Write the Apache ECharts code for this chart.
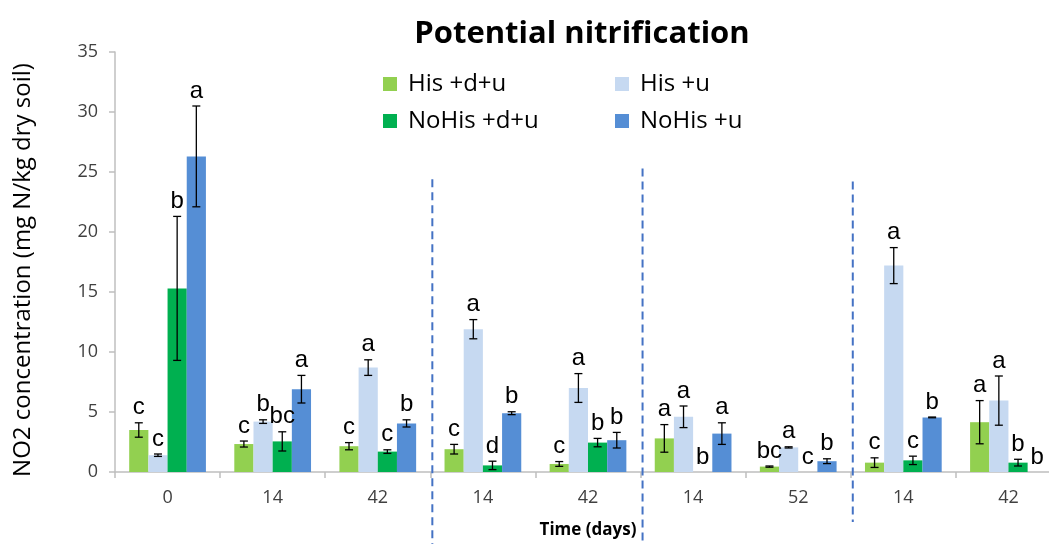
<!DOCTYPE html>
<html>
<head>
<meta charset="utf-8">
<script src="https://cdn.jsdelivr.net/npm/echarts@6/dist/echarts.min.js"></script>
<style>
  html, body { margin: 0; padding: 0; background: #fff; }
  #chart { width: 1049px; height: 544px; }
</style>
</head>
<body>
<div id="chart"></div>
<script>
// Sampling days (x categories)
const days = ['0', '14', '42', '14', '42', '14', '52', '14', '42'];

// Potential nitrification, mg N/kg dry soil (mean, error, significance letter)
const hisDU      = [3.5, 2.33, 2.15, 1.9, 0.67, 2.8, 0.45, 0.78, 4.15];
const hisDUErr   = [0.6, 0.25, 0.3, 0.4, 0.2, 1.15, 0.05, 0.4, 1.8];
const hisDUSig   = ['c', 'c', 'c', 'c', 'c', 'a', 'bc', 'c', 'a'];

const hisU       = [1.4, 4.2, 8.7, 11.9, 7.0, 4.6, 2.05, 17.2, 5.95];
const hisUErr    = [0.1, 0.15, 0.65, 0.8, 1.2, 0.9, 0.05, 1.5, 2.05];
const hisUSig    = ['c', 'b', 'a', 'a', 'a', 'a', 'a', 'a', 'a'];

const noHisDU    = [15.3, 2.55, 1.7, 0.55, 2.45, 0, 0, 0.97, 0.78];
const noHisDUErr = [6.0, 0.8, 0.15, 0.35, 0.35, 0, 0, 0.35, 0.28];
const noHisDUSig = ['b', 'bc', 'c', 'd', 'b', 'b', 'c', 'c', 'b'];

const noHisU     = [26.3, 6.9, 4.05, 4.9, 2.65, 3.2, 0.9, 4.55, 0];
const noHisUErr  = [4.2, 1.15, 0.3, 0.12, 0.65, 0.9, 0.2, 0.03, 0];
const noHisUSig  = ['a', 'a', 'b', 'b', 'b', 'a', 'b', 'b', 'b'];

const yTicks = [0, 5, 10, 15, 20, 25, 30, 35];

const seriesDefs = [
  { name: 'His +d+u',   color: '#92D050', v: hisDU,   e: hisDUErr,   s: hisDUSig },
  { name: 'His +u',     color: '#C6D9F1', v: hisU,    e: hisUErr,    s: hisUSig },
  { name: 'NoHis +d+u', color: '#00B050', v: noHisDU, e: noHisDUErr, s: noHisDUSig },
  { name: 'NoHis +u',   color: '#558ED5', v: noHisU,  e: noHisUErr,  s: noHisUSig }
];

const BAR_GAP = '0%';
const CAT_GAP = '27%';
const FONT = '"Open Sans", sans-serif';
const chart = echarts.init(document.getElementById('chart'), null, { renderer: 'canvas' });

// Error bar (I-beam) plus letter above it, placed over the matching bar
function errorRenderer(idx) {
  return function (params, api) {
    const cat = api.value(0);
    const val = api.value(1);
    const err = api.value(2);
    const layout = api.barLayout({ barGap: BAR_GAP, barCategoryGap: CAT_GAP, count: 4 });
    const base = api.coord([cat, val]);
    const x = base[0] + layout[idx].offsetCenter;
    const top = api.coord([cat, val + err])[1];
    const bot = api.coord([cat, Math.max(val - err, 0)])[1];
    const cap = 4;
    const children = [];
    if (err > 0) {
      const st = { stroke: '#000', lineWidth: 1.3 };
      children.push(
        { type: 'line', shape: { x1: x, y1: top, x2: x, y2: bot }, style: st },
        { type: 'line', shape: { x1: x - cap, y1: top, x2: x + cap, y2: top }, style: st },
        { type: 'line', shape: { x1: x - cap, y1: bot, x2: x + cap, y2: bot }, style: st }
      );
    }
    children.push({
      type: 'text',
      style: {
        text: seriesDefs[idx].s[params.dataIndex],
        x: x, y: top - 3,
        align: 'center', verticalAlign: 'bottom',
        font: '24px "Liberation Sans", Arial, sans-serif',
        fill: '#000'
      }
    });
    return { type: 'group', children: children };
  };
}

const series = [];
seriesDefs.forEach(function (d) {
  series.push({
    name: d.name, type: 'bar', data: d.v,
    barGap: BAR_GAP, barCategoryGap: CAT_GAP,
    itemStyle: { color: d.color },
    emphasis: { disabled: true },
    animation: false
  });
});
seriesDefs.forEach(function (d, idx) {
  series.push({
    type: 'custom',
    renderItem: errorRenderer(idx),
    data: d.v.map(function (v, i) { return [i, v, d.e[i]]; }),
    encode: { x: 0, y: [1, 2] },
    z: 5, silent: true, animation: false
  });
});

const legendText = { fontSize: 24, color: '#000', fontFamily: FONT, padding: [0, 0, 0, 6] };
const legendCommon = {
  orient: 'vertical', top: 72, padding: 0,
  itemWidth: 14, itemHeight: 14, itemGap: 13,
  icon: 'rect', textStyle: legendText, selectedMode: false
};

chart.setOption({
  animation: false,
  backgroundColor: '#fff',
  title: {
    text: 'Potential nitrification',
    left: 577, top: 14, textAlign: 'center',
    textStyle: { fontSize: 31, fontWeight: 'bold', color: '#000', fontFamily: FONT }
  },
  legend: [
    Object.assign({ data: ['His +d+u', 'NoHis +d+u'], left: 383 }, legendCommon),
    Object.assign({ data: ['His +u', 'NoHis +u'], left: 615 }, legendCommon)
  ],
  grid: { left: 115, top: 52, width: 946, height: 420, containLabel: false, outerBoundsMode: 'none' },
  xAxis: {
    type: 'category', data: days,
    name: 'Time (days)', nameLocation: 'middle', nameGap: 50,
    nameTextStyle: { fontSize: 17, fontWeight: 'bold', color: '#000', fontFamily: FONT },
    axisLine: { lineStyle: { color: '#BFBFBF', width: 1.5 } },
    axisTick: { show: true, alignWithLabel: false, length: 6, lineStyle: { color: '#BFBFBF', width: 1.5 } },
    axisLabel: { fontSize: 18, color: '#404040', margin: 17, fontFamily: FONT }
  },
  yAxis: {
    type: 'value', min: yTicks[0], max: yTicks[yTicks.length - 1], interval: 5,
    name: 'NO2 concentration (mg N/kg dry soil)', nameLocation: 'middle', nameGap: 80,
    nameTextStyle: { fontSize: 24, color: '#000', fontFamily: FONT, padding: [0, 16, 0, 0] },
    axisLine: { show: true, lineStyle: { color: '#BFBFBF', width: 1.5 } },
    axisTick: { show: true, length: 6, lineStyle: { color: '#BFBFBF', width: 1.5 } },
    splitLine: { show: false },
    axisLabel: { fontSize: 18, color: '#404040', margin: 17, fontFamily: FONT }
  },
  series: series
});

// Dashed separators between sampling campaigns
function drawDividers() {
  const splits = [
    { after: 2, topVal: 24.4, bottom: 544 },
    { after: 4, topVal: 25.3, bottom: 544 },
    { after: 6, topVal: 24.2, bottom: 522 }
  ];
  const els = splits.map(function (s) {
    const xa = chart.convertToPixel({ xAxisIndex: 0 }, s.after);
    const xb = chart.convertToPixel({ xAxisIndex: 0 }, s.after + 1);
    const x = (xa + xb) / 2 + 2;
    const yTop = chart.convertToPixel({ yAxisIndex: 0 }, s.topVal);
    return {
      type: 'line', silent: true, z: 10,
      shape: { x1: x, y1: yTop, x2: x, y2: s.bottom },
      style: { stroke: '#4472C4', lineWidth: 2, lineDash: [8, 5] }
    };
  });
  chart.setOption({ graphic: els });
}
drawDividers();
</script>
</body>
</html>
